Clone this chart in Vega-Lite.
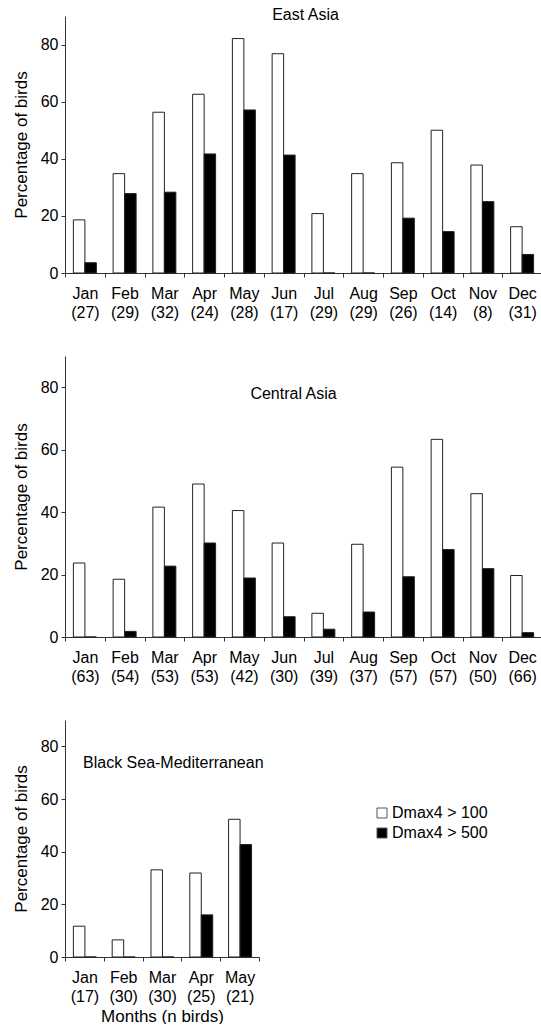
{
  "$schema": "https://vega.github.io/schema/vega-lite/v6.json",
  "padding": {"left": 12, "top": 7, "right": 0, "bottom": 0},
  "spacing": 36,
  "config": {
    "font": "Liberation Sans",
    "view": {"stroke": null},
    "axis": {"grid": false, "labelFontSize": 16, "titleFontSize": 17, "titleFontWeight": "normal", "labelColor": "#000", "titleColor": "#000", "domainColor": "#333", "tickColor": "#333", "tickSize": 4},
    "title": {"fontSize": 16, "fontWeight": "normal", "color": "#000", "baseline": "middle", "frame": "group"},
    "bar": {"stroke": "#222", "strokeWidth": 1}
  },
  "resolve": {"legend": {"color": "independent"}},
  "datasets": {
    "east": [
      {"label": "Jan (27)", "series": "Dmax4 > 100", "pct": 18.6}, {"label": "Jan (27)", "series": "Dmax4 > 500", "pct": 3.6},
      {"label": "Feb (29)", "series": "Dmax4 > 100", "pct": 34.8}, {"label": "Feb (29)", "series": "Dmax4 > 500", "pct": 27.8},
      {"label": "Mar (32)", "series": "Dmax4 > 100", "pct": 56.3}, {"label": "Mar (32)", "series": "Dmax4 > 500", "pct": 28.3},
      {"label": "Apr (24)", "series": "Dmax4 > 100", "pct": 62.6}, {"label": "Apr (24)", "series": "Dmax4 > 500", "pct": 41.7},
      {"label": "May (28)", "series": "Dmax4 > 100", "pct": 82.1}, {"label": "May (28)", "series": "Dmax4 > 500", "pct": 57.1},
      {"label": "Jun (17)", "series": "Dmax4 > 100", "pct": 76.8}, {"label": "Jun (17)", "series": "Dmax4 > 500", "pct": 41.3},
      {"label": "Jul (29)", "series": "Dmax4 > 100", "pct": 20.8}, {"label": "Jul (29)", "series": "Dmax4 > 500", "pct": 0},
      {"label": "Aug (29)", "series": "Dmax4 > 100", "pct": 34.8}, {"label": "Aug (29)", "series": "Dmax4 > 500", "pct": 0},
      {"label": "Sep (26)", "series": "Dmax4 > 100", "pct": 38.6}, {"label": "Sep (26)", "series": "Dmax4 > 500", "pct": 19.2},
      {"label": "Oct (14)", "series": "Dmax4 > 100", "pct": 50.0}, {"label": "Oct (14)", "series": "Dmax4 > 500", "pct": 14.5},
      {"label": "Nov (8)", "series": "Dmax4 > 100", "pct": 37.8}, {"label": "Nov (8)", "series": "Dmax4 > 500", "pct": 25.0},
      {"label": "Dec (31)", "series": "Dmax4 > 100", "pct": 16.2}, {"label": "Dec (31)", "series": "Dmax4 > 500", "pct": 6.5}
    ],
    "central": [
      {"label": "Jan (63)", "series": "Dmax4 > 100", "pct": 23.7}, {"label": "Jan (63)", "series": "Dmax4 > 500", "pct": 0},
      {"label": "Feb (54)", "series": "Dmax4 > 100", "pct": 18.5}, {"label": "Feb (54)", "series": "Dmax4 > 500", "pct": 1.8},
      {"label": "Mar (53)", "series": "Dmax4 > 100", "pct": 41.6}, {"label": "Mar (53)", "series": "Dmax4 > 500", "pct": 22.7},
      {"label": "Apr (53)", "series": "Dmax4 > 100", "pct": 49.0}, {"label": "Apr (53)", "series": "Dmax4 > 500", "pct": 30.1},
      {"label": "May (42)", "series": "Dmax4 > 100", "pct": 40.5}, {"label": "May (42)", "series": "Dmax4 > 500", "pct": 18.9},
      {"label": "Jun (30)", "series": "Dmax4 > 100", "pct": 30.1}, {"label": "Jun (30)", "series": "Dmax4 > 500", "pct": 6.5},
      {"label": "Jul (39)", "series": "Dmax4 > 100", "pct": 7.6}, {"label": "Jul (39)", "series": "Dmax4 > 500", "pct": 2.5},
      {"label": "Aug (37)", "series": "Dmax4 > 100", "pct": 29.7}, {"label": "Aug (37)", "series": "Dmax4 > 500", "pct": 8.0},
      {"label": "Sep (57)", "series": "Dmax4 > 100", "pct": 54.4}, {"label": "Sep (57)", "series": "Dmax4 > 500", "pct": 19.3},
      {"label": "Oct (57)", "series": "Dmax4 > 100", "pct": 63.3}, {"label": "Oct (57)", "series": "Dmax4 > 500", "pct": 28.0},
      {"label": "Nov (50)", "series": "Dmax4 > 100", "pct": 45.9}, {"label": "Nov (50)", "series": "Dmax4 > 500", "pct": 21.9},
      {"label": "Dec (66)", "series": "Dmax4 > 100", "pct": 19.7}, {"label": "Dec (66)", "series": "Dmax4 > 500", "pct": 1.4}
    ],
    "blacksea": [
      {"label": "Jan (17)", "series": "Dmax4 > 100", "pct": 11.7}, {"label": "Jan (17)", "series": "Dmax4 > 500", "pct": 0},
      {"label": "Feb (30)", "series": "Dmax4 > 100", "pct": 6.5}, {"label": "Feb (30)", "series": "Dmax4 > 500", "pct": 0},
      {"label": "Mar (30)", "series": "Dmax4 > 100", "pct": 33.1}, {"label": "Mar (30)", "series": "Dmax4 > 500", "pct": 0},
      {"label": "Apr (25)", "series": "Dmax4 > 100", "pct": 31.9}, {"label": "Apr (25)", "series": "Dmax4 > 500", "pct": 16.0},
      {"label": "May (21)", "series": "Dmax4 > 100", "pct": 52.3}, {"label": "May (21)", "series": "Dmax4 > 500", "pct": 42.7}
    ]
  },
  "vconcat": [
    {
      "data": {"name": "east"},
      "width": 477, "height": 257,
      "title": {"text": "East Asia", "offset": -7, "dx": 2},
      "mark": "bar",
      "encoding": {
        "x": {"field": "label", "type": "nominal", "sort": null, "scale": {"paddingInner": 0, "paddingOuter": 0},
              "axis": {"title": null, "labelAngle": 0, "labelExpr": "datum.value ? split(datum.value, ' ') : ''", "labelLineHeight": 19, "labelPadding": 8, "tickBand": "extent"}},
        "xOffset": {"field": "series", "type": "nominal", "scale": {"paddingInner": 0, "paddingOuter": 0.73}},
        "y": {"field": "pct", "type": "quantitative", "scale": {"domain": [0, 90], "nice": false},
              "axis": {"title": "Percentage of birds", "values": [0, 20, 40, 60, 80], "labelPadding": 3, "titlePadding": 10}},
        "color": {"field": "series", "type": "nominal", "scale": {"domain": ["Dmax4 > 100", "Dmax4 > 500"], "range": ["#ffffff", "#000000"]}, "legend": null}
      }
    },
    {
      "data": {"name": "central"},
      "width": 477, "height": 281,
      "title": {"text": "Central Asia", "offset": -46, "dx": -10},
      "mark": "bar",
      "encoding": {
        "x": {"field": "label", "type": "nominal", "sort": null, "scale": {"paddingInner": 0, "paddingOuter": 0},
              "axis": {"title": null, "labelAngle": 0, "labelExpr": "datum.value ? split(datum.value, ' ') : ''", "labelLineHeight": 19, "labelPadding": 8, "tickBand": "extent"}},
        "xOffset": {"field": "series", "type": "nominal", "scale": {"paddingInner": 0, "paddingOuter": 0.73}},
        "y": {"field": "pct", "type": "quantitative", "scale": {"domain": [0, 90], "nice": false},
              "axis": {"title": "Percentage of birds", "values": [0, 20, 40, 60, 80], "labelPadding": 3, "titlePadding": 10}},
        "color": {"field": "series", "type": "nominal", "scale": {"domain": ["Dmax4 > 100", "Dmax4 > 500"], "range": ["#ffffff", "#000000"]}, "legend": null}
      }
    },
    {
      "data": {"name": "blacksea"},
      "width": 194, "height": 237,
      "title": {"text": "Black Sea-Mediterranean", "offset": -51, "anchor": "start", "dx": 18},
      "mark": "bar",
      "encoding": {
        "x": {"field": "label", "type": "nominal", "sort": null, "scale": {"paddingInner": 0, "paddingOuter": 0},
              "axis": {"title": "Months (n birds)", "titlePadding": 4, "labelAngle": 0, "labelExpr": "datum.value ? split(datum.value, ' ') : ''", "labelLineHeight": 19, "labelPadding": 8, "tickBand": "extent"}},
        "xOffset": {"field": "series", "type": "nominal", "scale": {"paddingInner": 0, "paddingOuter": 0.73}},
        "y": {"field": "pct", "type": "quantitative", "scale": {"domain": [0, 90], "nice": false},
              "axis": {"title": "Percentage of birds", "values": [0, 20, 40, 60, 80], "labelPadding": 3, "titlePadding": 10}},
        "color": {"field": "series", "type": "nominal", "scale": {"domain": ["Dmax4 > 100", "Dmax4 > 500"], "range": ["#ffffff", "#000000"]},
                  "legend": {"orient": "none", "legendX": 309, "legendY": 85, "title": null, "symbolType": "square", "symbolSize": 100, "symbolStrokeColor": "#555", "symbolStrokeWidth": 1, "labelFontSize": 16, "labelOffset": 2, "rowPadding": 4}}
      }
    }
  ]
}
